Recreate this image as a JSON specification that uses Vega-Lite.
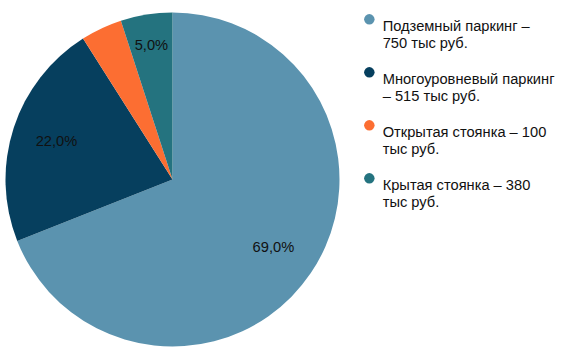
{
  "$schema": "https://vega.github.io/schema/vega-lite/v6.json",
  "width": 345,
  "height": 359,
  "padding": 0,
  "background": "white",
  "config": {
    "view": {"stroke": null},
    "font": "Liberation Sans",
    "style": {"guide-label": {"lineHeight": 17}}
  },
  "data": {"values": [
    {"name": "Подземный паркинг –|750 тыс руб.", "value": 69, "ord": 1, "pct": "69,0%"},
    {"name": "Многоуровневый паркинг|– 515 тыс руб.", "value": 22, "ord": 2, "pct": "22,0%"},
    {"name": "Открытая стоянка – 100|тыс руб.", "value": 4, "ord": 3, "pct": ""},
    {"name": "Крытая стоянка – 380|тыс руб.", "value": 5, "ord": 4, "pct": "5,0%"}
  ]},
  "encoding": {
    "theta": {"field": "value", "type": "quantitative", "stack": true},
    "order": {"field": "ord", "type": "quantitative"}
  },
  "layer": [
    {
      "mark": {"type": "arc", "outerRadius": 167},
      "encoding": {
        "color": {
          "field": "name", "type": "nominal",
          "scale": {
            "domain": ["Подземный паркинг –|750 тыс руб.", "Многоуровневый паркинг|– 515 тыс руб.", "Открытая стоянка – 100|тыс руб.", "Крытая стоянка – 380|тыс руб."],
            "range": ["#5B93AF", "#063F5E", "#FC6E32", "#24737F"]
          },
          "legend": {
            "title": null,
            "orient": "none",
            "legendX": 362,
            "legendY": 12,
            "symbolType": "circle",
            "symbolSize": 110,
            "symbolStrokeWidth": 0,
            "labelFontSize": 14.67,
            "labelColor": "#111111",
            "labelFont": "Liberation Sans",
            "labelLimit": 300,
            "labelOffset": 6,
            "labelBaseline": "top",
            "rowPadding": 13,
            "labelExpr": "split(datum.label, '|')"
          }
        }
      }
    },
    {
      "mark": {"type": "text", "radius": 122, "fontSize": 14.67, "color": "#111111", "font": "Liberation Sans"},
      "encoding": {"text": {"condition": {"test": "datum.ord != 4", "field": "pct"}, "value": ""}}
    },
    {
      "mark": {"type": "text", "radius": 135, "fontSize": 14.67, "color": "#111111", "font": "Liberation Sans"},
      "encoding": {"text": {"condition": {"test": "datum.ord == 4", "field": "pct"}, "value": ""}}
    }
  ]
}
